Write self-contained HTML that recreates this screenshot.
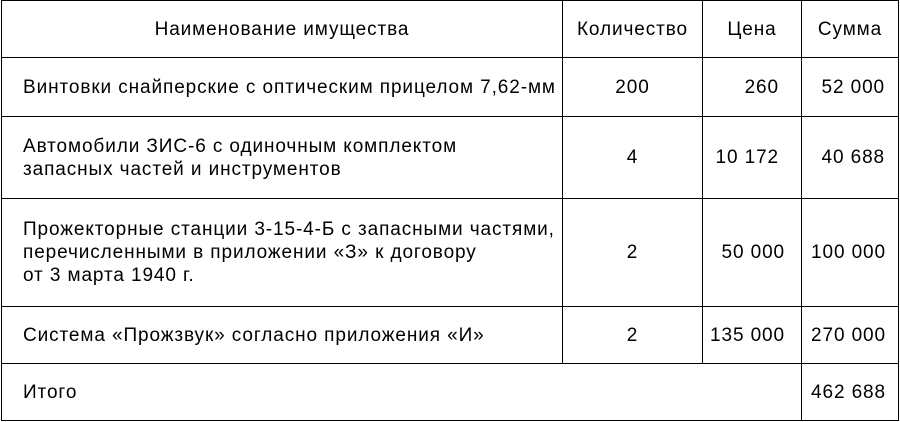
<!DOCTYPE html>
<html><head><meta charset="utf-8"><style>
body{margin:0;width:900px;height:422px;background:#fff;position:relative;font-family:"Liberation Sans",sans-serif;font-size:19px;letter-spacing:0.9px;color:#000;overflow:hidden}
.h{position:absolute;left:1px;width:898px;height:1px;background:#000}
.v{position:absolute;width:1px;background:#000}
.c{position:absolute;display:flex;align-items:center;line-height:23px;box-sizing:border-box;white-space:nowrap}
.r{justify-content:flex-end;margin-right:-0.9px}
</style></head><body>
<div class="h" style="top:0"></div>
<div class="h" style="top:57px"></div>
<div class="h" style="top:116px"></div>
<div class="h" style="top:198px"></div>
<div class="h" style="top:306px"></div>
<div class="h" style="top:363px"></div>
<div class="h" style="top:420px"></div>
<div class="v" style="left:1px;top:0;height:421px"></div>
<div class="v" style="left:562px;top:0;height:363px"></div>
<div class="v" style="left:702px;top:0;height:363px"></div>
<div class="v" style="left:801px;top:0;height:421px"></div>
<div class="v" style="left:898px;top:0;height:421px"></div>

<div class="c" style="left:2px;top:1px;width:560px;height:56px;justify-content:center">Наименование имущества</div>
<div class="c" style="left:563px;top:1px;width:139px;height:56px;justify-content:center">Количество</div>
<div class="c" style="left:703px;top:1px;width:98px;height:56px;justify-content:center">Цена</div>
<div class="c" style="left:802px;top:1px;width:96px;height:56px;justify-content:center">Сумма</div>

<div class="c" style="left:23px;top:58px;width:539px;height:58px">Винтовки снайперские с оптическим прицелом 7,62-мм</div>
<div class="c" style="left:563px;top:58px;width:139px;height:58px;justify-content:center">200</div>
<div class="c r" style="left:703px;top:58px;width:76px;height:58px">260</div>
<div class="c r" style="left:802px;top:58px;width:83px;height:58px">52 000</div>

<div class="c" style="left:23px;top:117px;width:539px;height:81px">Автомобили ЗИС-6 с одиночным комплектом<br>запасных частей и инструментов</div>
<div class="c" style="left:563px;top:117px;width:139px;height:81px;justify-content:center">4</div>
<div class="c r" style="left:703px;top:117px;width:76px;height:81px">10 172</div>
<div class="c r" style="left:802px;top:117px;width:83px;height:81px">40 688</div>

<div class="c" style="left:23px;top:199px;width:539px;height:107px">Прожекторные станции 3-15-4-Б с запасными частями,<br>перечисленными в приложении «З» к договору<br>от 3 марта 1940 г.</div>
<div class="c" style="left:563px;top:199px;width:139px;height:107px;justify-content:center">2</div>
<div class="c r" style="left:703px;top:199px;width:82px;height:107px">50 000</div>
<div class="c r" style="left:802px;top:199px;width:84px;height:107px">100 000</div>

<div class="c" style="left:23px;top:307px;width:539px;height:56px">Система «Прожзвук» согласно приложения «И»</div>
<div class="c" style="left:563px;top:307px;width:139px;height:56px;justify-content:center">2</div>
<div class="c r" style="left:703px;top:307px;width:82px;height:56px">135 000</div>
<div class="c r" style="left:802px;top:307px;width:84px;height:56px">270 000</div>

<div class="c" style="left:23px;top:364px;width:539px;height:56px">Итого</div>
<div class="c r" style="left:802px;top:364px;width:84px;height:56px">462 688</div>
</body></html>
